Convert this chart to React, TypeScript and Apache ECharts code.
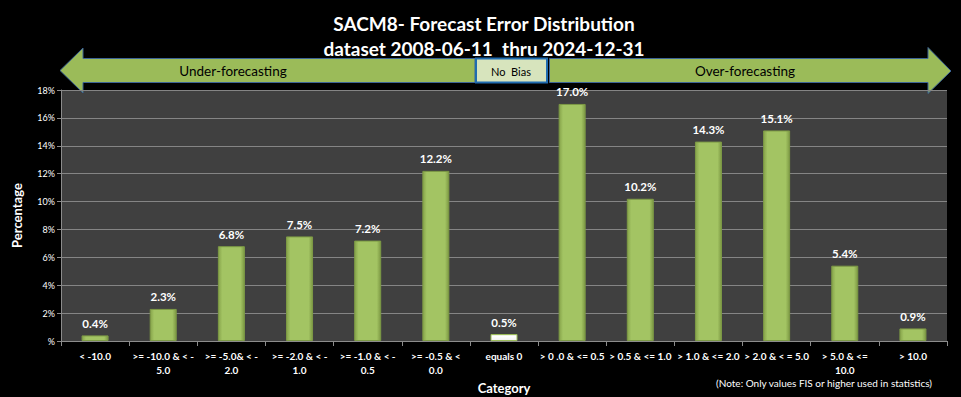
import React, { useEffect, useRef } from "react";
import * as echarts from "echarts";

const titleLines = ["SACM8- Forecast Error Distribution", "dataset 2008-06-11  thru 2024-12-31"];
const categories = [
  "< -10.0",
  ">= -10.0 & < -\n5.0",
  ">= -5.0& < -\n2.0",
  ">= -2.0 & < -\n1.0",
  ">= -1.0 & < -\n0.5",
  ">= -0.5 & <\n0.0",
  "equals 0",
  "> 0 .0 & <= 0.5",
  "> 0.5 & <= 1.0",
  "> 1.0 & <= 2.0",
  "> 2.0 & < = 5.0",
  "> 5.0 & <=\n10.0",
  "> 10.0",
];
const percentages = [0.4, 2.3, 6.8, 7.5, 7.2, 12.2, 0.5, 17.0, 10.2, 14.3, 15.1, 5.4, 0.9];
const yTicks = [0, 2, 4, 6, 8, 10, 12, 14, 16, 18];
const highlightCategory = "equals 0";

const FONT = "Lato";

export default function App() {
  const ref = useRef<HTMLDivElement>(null);
  useEffect(() => {
    if (!ref.current) return;
    const chart = echarts.init(ref.current, null, { renderer: "svg" });
    const green = new echarts.graphic.LinearGradient(0, 0, 1, 0, [
      { offset: 0, color: "#86a34a" },
      { offset: 0.15, color: "#a3c463" },
      { offset: 0.85, color: "#a3c463" },
      { offset: 1, color: "#7d9944" },
    ]);
    const pale = new echarts.graphic.LinearGradient(0, 0, 0, 1, [
      { offset: 0, color: "#dfe9c8" },
      { offset: 0.3, color: "#ffffff" },
      { offset: 1, color: "#f2f2ee" },
    ]);
    const data = percentages.map((v, i) => ({
      value: v,
      itemStyle:
        categories[i] === highlightCategory
          ? { color: pale, borderColor: "#9bbb59", borderWidth: 1 }
          : { color: green, borderColor: "#7d9a45", borderWidth: 1 },
    }));
    const arrowStroke = "#3d6596";
    chart.setOption({
      animation: false,
      backgroundColor: "#000000",
      grid: {
        left: 61,
        right: 14,
        top: 90,
        bottom: 56,
        backgroundColor: "#404040",
        show: true,
        borderWidth: 0,
        containLabel: false,
        outerBoundsMode: "none",
      },
      xAxis: {
        type: "category",
        data: categories,
        name: "Category",
        nameLocation: "middle",
        nameGap: 38,
        nameTextStyle: { color: "#ffffff", fontFamily: FONT, fontWeight: "bold", fontSize: 13 },
        axisLine: { lineStyle: { color: "#8c8c8c" } },
        axisTick: { show: true, alignWithLabel: false, length: 5, lineStyle: { color: "#8c8c8c" } },
        axisLabel: {
          interval: 0,
          color: "#ffffff",
          fontFamily: FONT,
          fontWeight: "bold",
          fontSize: 10,
          lineHeight: 14,
          margin: 8,
        },
      },
      yAxis: {
        type: "value",
        min: 0,
        max: 18,
        interval: 2,
        name: "Percentage",
        nameLocation: "middle",
        nameRotate: 90,
        nameGap: 38,
        nameTextStyle: { color: "#ffffff", fontFamily: FONT, fontWeight: "bold", fontSize: 13 },
        axisLine: { show: true, lineStyle: { color: "#8c8c8c" } },
        axisTick: { show: true, length: 4, lineStyle: { color: "#8c8c8c" } },
        splitLine: { lineStyle: { color: "#858585", width: 1 } },
        axisLabel: {
          color: "#ffffff",
          fontFamily: FONT,
          fontSize: 9,
          margin: 6,
          formatter: (v: number) => (yTicks.includes(v) ? (v === 0 ? "%" : v + "%") : ""),
        },
      },
      series: [
        {
          type: "bar",
          data,
          barWidth: 27,
          label: {
            show: true,
            position: "top",
            distance: 6,
            color: "#ffffff",
            fontFamily: FONT,
            fontWeight: "bold",
            fontSize: 11.5,
            formatter: (p: any) => Number(p.value).toFixed(1) + "%",
          },
        },
      ],
      graphic: [
        {
          type: "text",
          x: 484,
          y: 11,
          style: {
            text: titleLines.join("\n"),
            fill: "#ffffff",
            font: `bold 19px ${FONT}`,
            lineHeight: 25,
            align: "center",
            verticalAlign: "top",
          },
        },
        {
          type: "polygon",
          shape: {
            points: [
              [60, 70.5],
              [83, 48],
              [83, 58.5],
              [475, 58.5],
              [475, 82.5],
              [83, 82.5],
              [83, 93],
            ],
          },
          style: { fill: "#9bbb59", stroke: arrowStroke, lineWidth: 1 },
        },
        {
          type: "rect",
          shape: { x: 476, y: 58.5, width: 71, height: 24 },
          style: { fill: "#d7e4bd", stroke: "#1f6bb0", lineWidth: 2 },
        },
        {
          type: "polygon",
          shape: {
            points: [
              [549.5, 58.5],
              [928, 58.5],
              [928, 47.5],
              [951, 71],
              [928, 93.5],
              [928, 82.5],
              [549.5, 82.5],
            ],
          },
          style: { fill: "#9bbb59", stroke: arrowStroke, lineWidth: 1 },
        },
        {
          type: "text",
          x: 233,
          y: 71,
          style: { text: "Under-forecasting", fill: "#000000", font: `13.5px ${FONT}`, align: "center", verticalAlign: "middle" },
        },
        {
          type: "text",
          x: 511,
          y: 71,
          style: { text: "No  Bias", fill: "#000000", font: `11px ${FONT}`, align: "center", verticalAlign: "middle" },
        },
        {
          type: "text",
          x: 745,
          y: 71,
          style: { text: "Over-forecasting", fill: "#000000", font: `13.5px ${FONT}`, align: "center", verticalAlign: "middle" },
        },
        {
          type: "text",
          x: 824,
          y: 383,
          style: {
            text: "(Note: Only values FIS or higher used in statistics)",
            fill: "#ffffff",
            font: `10px ${FONT}`,
            align: "center",
            verticalAlign: "middle",
          },
        },
      ],
    });
    return () => chart.dispose();
  }, []);
  return <div ref={ref} style={{ position: "absolute", left: 0, top: 0, width: 961, height: 397 }} />;
}
